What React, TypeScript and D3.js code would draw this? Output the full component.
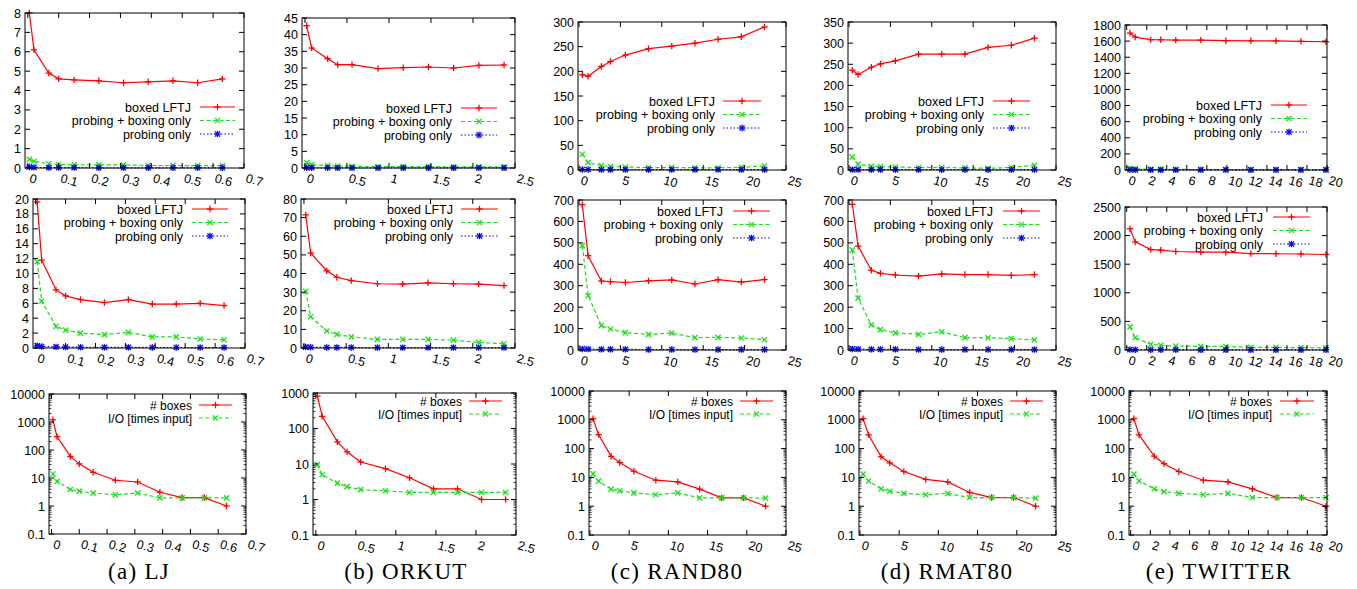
import React from 'react';
import * as d3 from 'd3';

// ---------------- DATA ----------------
const xLJ = [0.005, 0.02, 0.068, 0.1, 0.15, 0.23, 0.31, 0.39, 0.47, 0.55, 0.63];
const xORKUT = [0.02, 0.08, 0.27, 0.39, 0.56, 0.87, 1.17, 1.47, 1.77, 2.07, 2.37];
const xRAND80 = [0.4, 1.1, 2.7, 3.8, 5.6, 8.4, 11.2, 14.0, 16.8, 19.6, 22.4];
const xRMAT80 = [0.4, 1.1, 2.7, 3.8, 5.6, 8.4, 11.2, 14.0, 16.8, 19.6, 22.4];
const xTWITTER = [0.33, 0.85, 2.4, 3.4, 4.9, 7.4, 9.9, 12.4, 14.9, 17.4, 19.9];

// row 1
const ljBoxed1 = [8.0, 6.1, 4.9, 4.6, 4.55, 4.5, 4.4, 4.45, 4.5, 4.4, 4.6];
const ljProbBox1 = [0.45, 0.35, 0.22, 0.18, 0.17, 0.16, 0.16, 0.13, 0.13, 0.12, 0.12];
const ljProbe1 = [0.05, 0.03, 0.02, 0.02, 0.02, 0.01, 0.01, 0.01, 0.01, 0.01, 0.01];
const orBoxed1 = [42.7, 36, 32.8, 31, 31, 29.8, 30.1, 30.3, 30.0, 30.8, 30.9];
const orProbBox1 = [1.6, 1.0, 0.7, 0.6, 0.5, 0.4, 0.4, 0.4, 0.35, 0.35, 0.35];
const orProbe1 = [0.1, 0.08, 0.06, 0.05, 0.05, 0.04, 0.04, 0.04, 0.04, 0.04, 0.04];
const raBoxed1 = [193, 190, 210, 220, 233, 246, 251, 257, 265, 270, 290];
const raProbBox1 = [32, 15, 9, 7, 6, 5, 5, 4.5, 4.5, 5.5, 8];
const raProbe1 = [1, 1, 0.8, 0.8, 0.8, 0.7, 0.7, 0.7, 0.7, 0.7, 0.7];
const rmBoxed1 = [236, 226, 243, 251, 258, 274, 274, 274, 290, 295, 312];
const rmProbBox1 = [31, 14, 9, 8, 7, 6, 6, 5, 4, 6, 11];
const rmProbe1 = [1, 1, 0.8, 0.8, 0.8, 0.7, 0.7, 0.7, 0.7, 0.7, 0.7];
const twBoxed1 = [1700, 1650, 1618, 1617, 1612, 1612, 1605, 1604, 1603, 1597, 1592];
const twProbBox1 = [20, 15, 10, 8, 7, 6, 6, 5, 5, 5, 5];
const twProbe1 = [3, 2, 2, 2, 2, 2, 2, 2, 2, 2, 2];

// row 2
const ljBoxed2 = [19.6, 11.8, 7.8, 7.0, 6.5, 6.1, 6.5, 5.9, 5.9, 6.0, 5.7];
const ljProbBox2 = [11.6, 6.3, 2.9, 2.4, 2.0, 1.8, 2.1, 1.5, 1.5, 1.2, 1.1];
const ljProbe2 = [0.3, 0.2, 0.15, 0.12, 0.1, 0.08, 0.08, 0.07, 0.07, 0.06, 0.06];
const orBoxed2 = [71.5, 51, 41.5, 38, 36.2, 34.5, 34.3, 35, 34.5, 34.3, 33.5];
const orProbBox2 = [30.5, 16.8, 9.1, 7.3, 6.0, 4.6, 4.6, 4.6, 4.2, 3.0, 2.3];
const orProbe2 = [0.5, 0.4, 0.3, 0.3, 0.3, 0.2, 0.2, 0.2, 0.2, 0.2, 0.2];
const raBoxed2 = [678, 440, 322, 319, 315, 323, 327, 308, 328, 317, 329];
const raProbBox2 = [487, 254, 114, 98, 81, 73, 79, 58, 59, 56, 48];
const raProbe2 = [5, 4, 3, 3, 3, 2, 2, 2, 2, 2, 2];
const rmBoxed2 = [680, 485, 372, 358, 350, 345, 355, 352, 352, 348, 352];
const rmProbBox2 = [467, 242, 117, 95, 80, 73, 85, 58, 57, 53, 47];
const rmProbe2 = [5, 4, 3, 3, 3, 2, 2, 2, 2, 2, 2];
const twBoxed2 = [2120, 1890, 1755, 1745, 1722, 1712, 1710, 1685, 1683, 1678, 1670];
const twProbBox2 = [405, 215, 100, 82, 70, 63, 62, 47, 45, 42, 38];
const twProbe2 = [6, 5, 4, 4, 4, 3, 3, 3, 3, 3, 3];

// row 3
const ljBoxes = [1200, 300, 59, 32, 16, 8.3, 7.2, 3.1, 2, 2, 1];
const ljIO = [13.9, 7.6, 3.9, 3.4, 2.9, 2.5, 2.9, 1.95, 1.95, 1.95, 1.95];
const orBoxes = [820, 220, 42, 22, 11.4, 7.4, 4.1, 2, 2, 1, 1];
const orIO = [9.6, 5.0, 2.9, 2.3, 1.9, 1.76, 1.58, 1.58, 1.58, 1.58, 1.58];
const raBoxes = [1100, 306, 54, 33, 16.4, 8, 7, 3.9, 1.95, 1.95, 1];
const raIO = [13.2, 7.4, 3.9, 3.4, 2.9, 2.5, 2.9, 1.95, 1.95, 1.95, 1.9];
const rmBoxes = [1100, 300, 52, 32, 16, 8.5, 7, 3, 2, 2, 1];
const rmIO = [13, 7.5, 4, 3.3, 2.8, 2.5, 2.8, 2, 2, 2, 1.9];
const twBoxes = [1100, 300, 55, 30, 16, 8, 7, 4, 2, 2, 1];
const twIO = [13, 7.5, 4, 3.2, 2.8, 2.5, 2.8, 2, 2, 2, 2];

// ticks
const ljXTicks = [0, 0.1, 0.2, 0.3, 0.4, 0.5, 0.6, 0.7];
const orXTicks = [0, 0.5, 1, 1.5, 2, 2.5];
const raXTicks = [0, 5, 10, 15, 20, 25];
const rmXTicks = [0, 5, 10, 15, 20, 25];
const twXTicks = [0, 2, 4, 6, 8, 10, 12, 14, 16, 18, 20];

const ljY1 = [0, 1, 2, 3, 4, 5, 6, 7, 8];
const orY1 = [0, 5, 10, 15, 20, 25, 30, 35, 40, 45];
const raY1 = [0, 50, 100, 150, 200, 250, 300];
const rmY1 = [0, 50, 100, 150, 200, 250, 300, 350];
const twY1 = [0, 200, 400, 600, 800, 1000, 1200, 1400, 1600, 1800];

const ljY2 = [0, 2, 4, 6, 8, 10, 12, 14, 16, 18, 20];
const orY2 = [0, 10, 20, 30, 40, 50, 60, 70, 80];
const raY2 = [0, 100, 200, 300, 400, 500, 600, 700];
const rmY2 = [0, 100, 200, 300, 400, 500, 600, 700];
const twY2 = [0, 500, 1000, 1500, 2000, 2500];

const logY10000 = [0.1, 1, 10, 100, 1000, 10000];
const logY1000 = [0.1, 1, 10, 100, 1000];

const legendTop = ['boxed LFTJ', 'probing + boxing only', 'probing only'];
const legendBottom = ['# boxes', 'I/O [times input]'];
const captionTags = ['(a)', '(b)', '(c)', '(d)', '(e)'];
const captionNames = ['LJ', 'ORKUT', 'RAND80', 'RMAT80', 'TWITTER'];

// ---------------- STYLE / LAYOUT ----------------
const RED = '#ff0000';
const GREEN = '#18e018';
const BLUE = '#0000ff';
const SANS = '"Liberation Sans", Arial, Helvetica, sans-serif';
const SERIF = '"Liberation Serif", "Times New Roman", serif';
const TICK_FONT = 12.5;

type Frame = { l: number; r: number; t: number; b: number };
type Leg = { tr: number; x1: number; x2: number; y0: number; step: number };

const frames1: Frame[] = [
  { l: 25, r: 244, t: 13, b: 168 },
  { l: 302, r: 515, t: 18, b: 168 },
  { l: 578, r: 786, t: 22, b: 170 },
  { l: 848, r: 1056, t: 22, b: 170 },
  { l: 1125, r: 1327, t: 25, b: 170 },
];
const frames2: Frame[] = [
  { l: 33, r: 245, t: 199, b: 348 },
  { l: 301, r: 515, t: 199, b: 348 },
  { l: 578, r: 786, t: 200, b: 350 },
  { l: 848, r: 1056, t: 200, b: 350 },
  { l: 1125, r: 1327, t: 207, b: 350 },
];
const frames3: Frame[] = [
  { l: 49, r: 246, t: 394, b: 534 },
  { l: 313, r: 516, t: 393, b: 535 },
  { l: 589, r: 786, t: 391, b: 535 },
  { l: 859, r: 1056, t: 391, b: 535 },
  { l: 1129, r: 1327, t: 391, b: 535 },
];
const legs1: Leg[] = [
  { tr: 191, x1: 200, x2: 235, y0: 107, step: 13.5 },
  { tr: 452, x1: 461, x2: 497, y0: 108, step: 13.5 },
  { tr: 715, x1: 723, x2: 761, y0: 101, step: 13.5 },
  { tr: 984, x1: 993, x2: 1030, y0: 101, step: 13.5 },
  { tr: 1262, x1: 1271, x2: 1307, y0: 105, step: 13.5 },
];
const legs2: Leg[] = [
  { tr: 183, x1: 192, x2: 228, y0: 209, step: 13.5 },
  { tr: 453, x1: 461, x2: 498, y0: 209, step: 13.5 },
  { tr: 723, x1: 733, x2: 770, y0: 211, step: 13.5 },
  { tr: 993, x1: 1003, x2: 1040, y0: 211, step: 13.5 },
  { tr: 1263, x1: 1273, x2: 1310, y0: 217, step: 13.5 },
];
const legs3: Leg[] = [
  { tr: 192, x1: 199, x2: 232, y0: 405, step: 13 },
  { tr: 462, x1: 469, x2: 502, y0: 401, step: 13 },
  { tr: 733, x1: 740, x2: 773, y0: 401, step: 13 },
  { tr: 1003, x1: 1010, x2: 1043, y0: 401, step: 13 },
  { tr: 1272, x1: 1280, x2: 1314, y0: 401, step: 13 },
];
const captionX = [139, 406, 677, 947, 1219];

type SeriesDef = { values: number[]; color: string; dash?: string; marker: 'plus' | 'cross' | 'star'; label: string };

function Marker({ kind, x, y, color }: { kind: string; x: number; y: number; color: string }) {
  const s = 3.2;
  const d = 2.6;
  const parts: React.ReactNode[] = [];
  if (kind === 'plus' || kind === 'star') {
    parts.push(<line key="h" x1={x - s} x2={x + s} y1={y} y2={y} />);
    parts.push(<line key="v" x1={x} x2={x} y1={y - s} y2={y + s} />);
  }
  if (kind === 'cross' || kind === 'star') {
    parts.push(<line key="d1" x1={x - d} x2={x + d} y1={y - d} y2={y + d} />);
    parts.push(<line key="d2" x1={x - d} x2={x + d} y1={y + d} y2={y - d} />);
  }
  return (
    <g stroke={color} strokeWidth={1.3}>
      {parts}
    </g>
  );
}

function Panel({
  frame, xDomain, xTicks, yDomain, yTicks, log, xs, series, leg, legFont,
}: {
  frame: Frame; xDomain: [number, number]; xTicks: number[]; yDomain: [number, number]; yTicks: number[];
  log?: boolean; xs: number[]; series: SeriesDef[]; leg: Leg; legFont: number;
}) {
  const x = d3.scaleLinear().domain(xDomain).range([frame.l, frame.r]);
  const y = (log ? d3.scaleLog() : d3.scaleLinear()).domain(yDomain).range([frame.b, frame.t]);
  const fmt = d3.format('~g');
  const tl = 5;
  const minor: number[] = [];
  if (log) {
    for (let k = yDomain[0]; k < yDomain[1]; k *= 10) {
      for (let m = 2; m <= 9; m++) minor.push(k * m);
    }
  }
  const line = d3
    .line<[number, number]>()
    .x((d) => x(d[0]))
    .y((d) => y(d[1]));
  return (
    <g>
      {series.map((s, i) => {
        const pts: [number, number][] = xs.map((xv, j) => [xv, s.values[j]]);
        return (
          <g key={'s' + i}>
            <path d={line(pts) || ''} fill="none" stroke={s.color} strokeWidth={1.2} strokeDasharray={s.dash} />
            {pts.map((p, j) => (
              <Marker key={j} kind={s.marker} x={x(p[0])} y={y(p[1])} color={s.color} />
            ))}
          </g>
        );
      })}
      <rect x={frame.l} y={frame.t} width={frame.r - frame.l} height={frame.b - frame.t} fill="none" stroke="#000" strokeWidth={1} />
      {yTicks.map((t, i) => (
        <g key={'y' + i}>
          <line x1={frame.l} x2={frame.l + tl} y1={y(t)} y2={y(t)} stroke="#000" />
          <line x1={frame.r} x2={frame.r - tl} y1={y(t)} y2={y(t)} stroke="#000" />
          <text x={frame.l - 4} y={y(t) + 4.5} textAnchor="end" fontFamily={SANS} fontSize={TICK_FONT} fill="#000">
            {fmt(t)}
          </text>
        </g>
      ))}
      {minor.map((t, i) => (
        <g key={'m' + i}>
          <line x1={frame.l} x2={frame.l + 2.5} y1={y(t)} y2={y(t)} stroke="#000" strokeWidth={0.8} />
          <line x1={frame.r} x2={frame.r - 2.5} y1={y(t)} y2={y(t)} stroke="#000" strokeWidth={0.8} />
        </g>
      ))}
      {xTicks.map((t, i) => (
        <g key={'x' + i}>
          <line x1={x(t)} x2={x(t)} y1={frame.b} y2={frame.b - tl} stroke="#000" />
          <line x1={x(t)} x2={x(t)} y1={frame.t} y2={frame.t + tl} stroke="#000" />
          <text
            transform={`translate(${x(t) + 1},${frame.b + 14}) rotate(15)`}
            textAnchor="start"
            fontFamily={SANS}
            fontSize={TICK_FONT}
            fill="#000"
          >
            {fmt(t)}
          </text>
        </g>
      ))}
      {series.map((s, i) => {
        const ly = leg.y0 + i * leg.step;
        return (
          <g key={'l' + i}>
            <text x={leg.tr} y={ly + 4.5} textAnchor="end" fontFamily={SANS} fontSize={legFont} fill="#000">
              {s.label}
            </text>
            <line x1={leg.x1} x2={leg.x2} y1={ly} y2={ly} stroke={s.color} strokeWidth={1.2} strokeDasharray={s.dash} />
            <Marker kind={s.marker} x={(leg.x1 + leg.x2) / 2} y={ly} color={s.color} />
          </g>
        );
      })}
    </g>
  );
}

const xDomains: [number, number][] = [
  [-0.009, 0.7],
  [-0.035, 2.5],
  [-0.12, 25],
  [-0.12, 25],
  [-0.17, 20],
];
const xsAll = [xLJ, xORKUT, xRAND80, xRMAT80, xTWITTER];
const xTicksAll = [ljXTicks, orXTicks, raXTicks, rmXTicks, twXTicks];

const row1 = [
  [ljBoxed1, ljProbBox1, ljProbe1],
  [orBoxed1, orProbBox1, orProbe1],
  [raBoxed1, raProbBox1, raProbe1],
  [rmBoxed1, rmProbBox1, rmProbe1],
  [twBoxed1, twProbBox1, twProbe1],
];
const row2 = [
  [ljBoxed2, ljProbBox2, ljProbe2],
  [orBoxed2, orProbBox2, orProbe2],
  [raBoxed2, raProbBox2, raProbe2],
  [rmBoxed2, rmProbBox2, rmProbe2],
  [twBoxed2, twProbBox2, twProbe2],
];
const row3 = [
  [ljBoxes, ljIO],
  [orBoxes, orIO],
  [raBoxes, raIO],
  [rmBoxes, rmIO],
  [twBoxes, twIO],
];
const y1Ticks = [ljY1, orY1, raY1, rmY1, twY1];
const y2Ticks = [ljY2, orY2, raY2, rmY2, twY2];
const y3Ticks = [logY10000, logY1000, logY10000, logY10000, logY10000];

const styles: { color: string; dash?: string; marker: 'plus' | 'cross' | 'star' }[] = [
  { color: RED, marker: 'plus' },
  { color: GREEN, dash: '4,2.5', marker: 'cross' },
  { color: BLUE, dash: '1.5,2', marker: 'star' },
];

export default function App() {
  const panels: React.ReactNode[] = [];
  for (let c = 0; c < 5; c++) {
    const t1 = y1Ticks[c];
    const t2 = y2Ticks[c];
    const t3 = y3Ticks[c];
    panels.push(
      <Panel
        key={'r1' + c}
        frame={frames1[c]}
        xDomain={xDomains[c]}
        xTicks={xTicksAll[c]}
        yDomain={[t1[0], t1[t1.length - 1]]}
        yTicks={t1}
        xs={xsAll[c]}
        series={row1[c].map((v, i) => ({ values: v, ...styles[i], label: legendTop[i] }))}
        leg={legs1[c]}
        legFont={12.5}
      />
    );
    panels.push(
      <Panel
        key={'r2' + c}
        frame={frames2[c]}
        xDomain={xDomains[c]}
        xTicks={xTicksAll[c]}
        yDomain={[t2[0], t2[t2.length - 1]]}
        yTicks={t2}
        xs={xsAll[c]}
        series={row2[c].map((v, i) => ({ values: v, ...styles[i], label: legendTop[i] }))}
        leg={legs2[c]}
        legFont={12.5}
      />
    );
    panels.push(
      <Panel
        key={'r3' + c}
        frame={frames3[c]}
        xDomain={xDomains[c]}
        xTicks={xTicksAll[c]}
        yDomain={[t3[0], t3[t3.length - 1]]}
        yTicks={t3}
        log
        xs={xsAll[c]}
        series={row3[c].map((v, i) => ({ values: v, ...styles[i], label: legendBottom[i] }))}
        leg={legs3[c]}
        legFont={12}
      />
    );
  }
  return (
    <svg
      width={1357}
      height={589}
      viewBox="0 0 1357 589"
      style={{ position: 'absolute', left: 0, top: 0, background: '#fff' }}
    >
      <rect x={0} y={0} width={1357} height={589} fill="#fff" />
      {panels}
      {captionTags.map((tag, i) => (
        <text key={tag} x={captionX[i]} y={579} textAnchor="middle" fontFamily={SERIF} fontSize={23} letterSpacing={1.3} fill="#000">
          <tspan>{tag}</tspan>
          <tspan dx={7}>{captionNames[i]}</tspan>
        </text>
      ))}
    </svg>
  );
}
